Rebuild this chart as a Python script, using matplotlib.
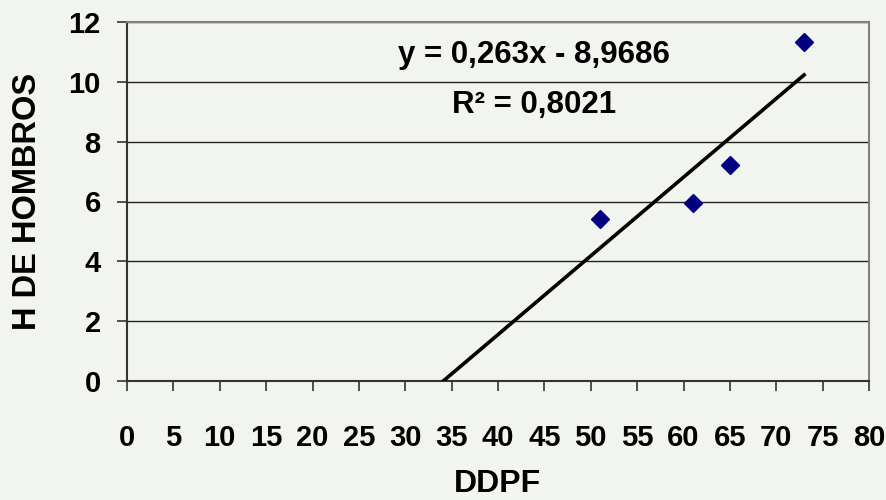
import numpy as np
import matplotlib
matplotlib.use('Agg')
import matplotlib.pyplot as plt

plt.rcParams['font.family'] = ['Liberation Sans', 'DejaVu Sans']
plt.rcParams['font.weight'] = 'bold'

# data
ddpf = [51, 61, 65, 73]
hombros = [5.42, 5.96, 7.22, 11.34]

slope = 0.263
intercept = -8.9686
r2 = 0.8021

x_ticks = list(range(0, 81, 5))
y_ticks = list(range(0, 13, 2))

bg = '#f2f5ef'


def trend(x):
    return slope * x + intercept


if __name__ == '__main__':
    fig = plt.figure(figsize=(8.87, 5.0), dpi=100, facecolor=bg)
    ax = fig.add_axes([0.1432, 0.238, 0.8365, 0.718])
    ax.set_facecolor(bg)

    for y in y_ticks[1:]:
        ax.axhline(y, color='#222222', lw=1, zorder=1)

    x_line = np.linspace(-intercept / slope, max(ddpf), 50)
    ax.plot(x_line, trend(x_line), color='black', lw=2.6, zorder=3)
    ax.plot(ddpf, hombros, 'D', color='#000080', ms=9, zorder=4)

    ax.text(43.9, 10.63, 'y = 0,263x - 8,9686', ha='center', va='baseline',
            fontsize=22.5, fontweight='bold')
    ax.text(43.9, 8.96, 'R² = 0,8021', ha='center', va='baseline',
            fontsize=22.5, fontweight='bold')

    ax.set_xlim(0, 80)
    ax.set_ylim(0, 12)
    ax.set_xticks(x_ticks)
    ax.set_yticks(y_ticks)
    ax.tick_params(axis='x', length=7, width=1.2, pad=24, labelsize=21,
                   direction='out', colors='#333333', labelcolor='black')
    ax.tick_params(axis='y', length=7, width=1.2, pad=12, labelsize=21,
                   direction='out', colors='#333333', labelcolor='black')
    for lab in ax.get_xticklabels() + ax.get_yticklabels():
        lab.set_fontweight('bold')

    for side in ('top', 'right'):
        ax.spines[side].set_color('#808080')
        ax.spines[side].set_linewidth(1.5)
    for side in ('left', 'bottom'):
        ax.spines[side].set_color('#333333')
        ax.spines[side].set_linewidth(1.5)

    fig.text(0.031, 0.598, 'H DE HOMBROS', rotation=90, ha='center',
             va='center', fontsize=23.5, fontweight='bold')
    fig.text(0.561, 0.003, 'DDPF', ha='center', va='bottom',
             fontsize=23, fontweight='bold')

    fig.savefig('out.png', dpi=100, facecolor=bg)
